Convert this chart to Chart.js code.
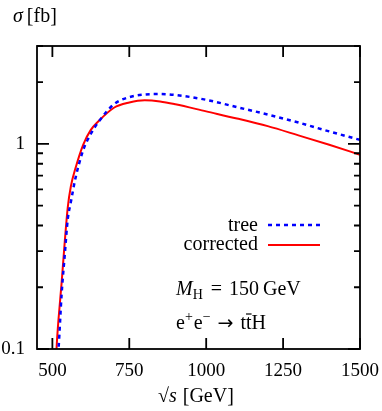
<!DOCTYPE html>
<html>
<head>
<meta charset="utf-8">
<script src="https://cdn.jsdelivr.net/npm/chart.js@4"></script>
<style>
  html, body { margin: 0; padding: 0; background: #fff; }
</style>
</head>
<body>
<canvas id="xsecChart" width="382" height="411"></canvas>
<script>
// data
const sqrtS = [510, 515, 520, 530, 540, 550, 560, 575, 600, 625, 650, 700, 750, 800, 850, 900, 1000, 1100, 1200, 1300, 1400, 1500];
const treeXsec = [0.06, 0.08, 0.10, 0.185, 0.285, 0.43, 0.52, 0.68, 0.93, 1.12, 1.28, 1.56, 1.69, 1.74, 1.75, 1.73, 1.64, 1.51, 1.39, 1.27, 1.15, 1.046];
const correctedXsec = [0.08, 0.11, 0.14, 0.21, 0.33, 0.49, 0.62, 0.76, 0.99, 1.17, 1.29, 1.50, 1.59, 1.63, 1.61, 1.56, 1.44, 1.33, 1.22, 1.10, 0.99, 0.885];
const xTicks = [500, 750, 1000, 1250, 1500];
const yTicks = [0.1, 1];
const yMinorTicks = [0.2, 0.3, 0.4, 0.5, 0.6, 0.7, 0.8, 0.9, 2, 3];

const serif = '"Liberation Serif", "DejaVu Serif", serif';

function toPoints(ys) {
    return sqrtS.map((x, i) => ({ x: x, y: ys[i] }));
}

// draw a run of text pieces: [text, font, dy, gap after]
function drawRun(ctx, x, y, parts) {
    parts.forEach(p => {
        ctx.font = p[1];
        ctx.fillText(p[0], x, y + (p[2] || 0));
        x += ctx.measureText(p[0]).width + (p[3] || 0);
    });
    return x;
}

const framePlugin = {
    id: 'frame',
    afterDraw(chart) {
        const ctx = chart.ctx;
        const { left, right, top, bottom } = chart.chartArea;
        const xs = chart.scales.x, ys = chart.scales.y;
        ctx.save();
        ctx.strokeStyle = '#000';
        ctx.lineWidth = 1.8;
        ctx.strokeRect(left, top, right - left, bottom - top);

        ctx.beginPath();
        xTicks.forEach(v => {
            const px = xs.getPixelForValue(v);
            ctx.moveTo(px, bottom); ctx.lineTo(px, bottom - 11);
            ctx.moveTo(px, top); ctx.lineTo(px, top + 11);
        });
        yTicks.forEach(v => {
            const py = ys.getPixelForValue(v);
            ctx.moveTo(left, py); ctx.lineTo(left + 12, py);
            ctx.moveTo(right, py); ctx.lineTo(right - 12, py);
        });
        yMinorTicks.forEach(v => {
            const py = ys.getPixelForValue(v);
            ctx.moveTo(left, py); ctx.lineTo(left + 6, py);
            ctx.moveTo(right, py); ctx.lineTo(right - 6, py);
        });
        ctx.stroke();

        // legend
        ctx.fillStyle = '#000';
        ctx.textBaseline = 'middle';
        ctx.textAlign = 'right';
        ctx.font = '20px ' + serif;
        ctx.fillText('tree', 258, 226);
        ctx.fillText('corrected', 258, 245);
        ctx.lineWidth = 2.5;
        ctx.strokeStyle = '#0000ff';
        ctx.setLineDash([4, 4]);
        ctx.beginPath(); ctx.moveTo(268, 225); ctx.lineTo(320, 225); ctx.stroke();
        ctx.setLineDash([]);
        ctx.lineWidth = 2;
        ctx.strokeStyle = '#ff0000';
        ctx.beginPath(); ctx.moveTo(268, 245); ctx.lineTo(320, 245); ctx.stroke();

        // annotations
        ctx.textAlign = 'left';
        ctx.textBaseline = 'alphabetic';
        const it = 'italic 20px ' + serif, rm = '20px ' + serif, sm = '14px ' + serif;
        const arrow = '19px "DejaVu Sans", sans-serif';
        drawRun(ctx, 176, 295, [['M', it, 0, 0], ['H', sm, 4, 8], ['=', rm, 0, 7], ['150', rm, 0, 4], ['GeV', rm]]);
        let ex = drawRun(ctx, 176, 329, [['e', rm], ['+', sm, -8, 1], ['e', rm], ['\u2212', sm, -8, 7], ['\u2192', arrow, 0, 7], ['t', rm]]);
        ctx.font = rm;
        const tw = ctx.measureText('t').width;
        ctx.fillText('t', ex, 329);
        ctx.lineWidth = 1.2;
        ctx.strokeStyle = '#000';
        ctx.beginPath(); ctx.moveTo(ex, 314); ctx.lineTo(ex + tw, 314); ctx.stroke();
        ctx.fillText('H', ex + tw, 329);

        // axis titles
        drawRun(ctx, 13, 22, [['\u03c3', it, 0, 4], ['[fb]', rm]]);
        drawRun(ctx, 158, 402, [['\u221a', rm], ['s', it, 0, 6], ['[GeV]', rm]]);
        ctx.restore();
    }
};

const ctx = document.getElementById('xsecChart').getContext('2d');
const xsecChart = new Chart(ctx, {
    type: 'line',
    data: {
        datasets: [{
            label: 'tree',
            data: toPoints(treeXsec),
            borderColor: '#0000ff',
            borderWidth: 2.5,
            borderDash: [4, 4],
            pointRadius: 0,
            cubicInterpolationMode: 'monotone'
        }, {
            label: 'corrected',
            data: toPoints(correctedXsec),
            borderColor: '#ff0000',
            borderWidth: 2,
            pointRadius: 0,
            cubicInterpolationMode: 'monotone'
        }]
    },
    options: {
        responsive: false,
        animation: false,
        devicePixelRatio: 1,
        layout: { padding: { top: 46, right: 22, left: 0, bottom: 0 } },
        plugins: { legend: { display: false }, tooltip: { enabled: false } },
        scales: {
            x: {
                type: 'linear',
                min: 450,
                max: 1500,
                grid: { display: false },
                border: { display: false },
                ticks: { color: '#000', font: { family: serif, size: 19 }, padding: 3, maxRotation: 0, callback: v => String(v) },
                afterBuildTicks: s => { s.ticks = xTicks.map(v => ({ value: v })); },
                afterFit: s => { s.height = 62; s.paddingLeft = 0; s.paddingRight = 0; }
            },
            y: {
                type: 'logarithmic',
                min: 0.1,
                max: 3,
                grid: { display: false },
                border: { display: false },
                ticks: { color: '#000', font: { family: serif, size: 19 }, padding: 4, callback: v => String(v) },
                afterBuildTicks: s => { s.ticks = yTicks.map(v => ({ value: v })); },
                afterFit: s => { s.width = 37; s.paddingTop = 0; s.paddingBottom = 0; }
            }
        }
    },
    plugins: [framePlugin]
});
</script>
</body>
</html>
